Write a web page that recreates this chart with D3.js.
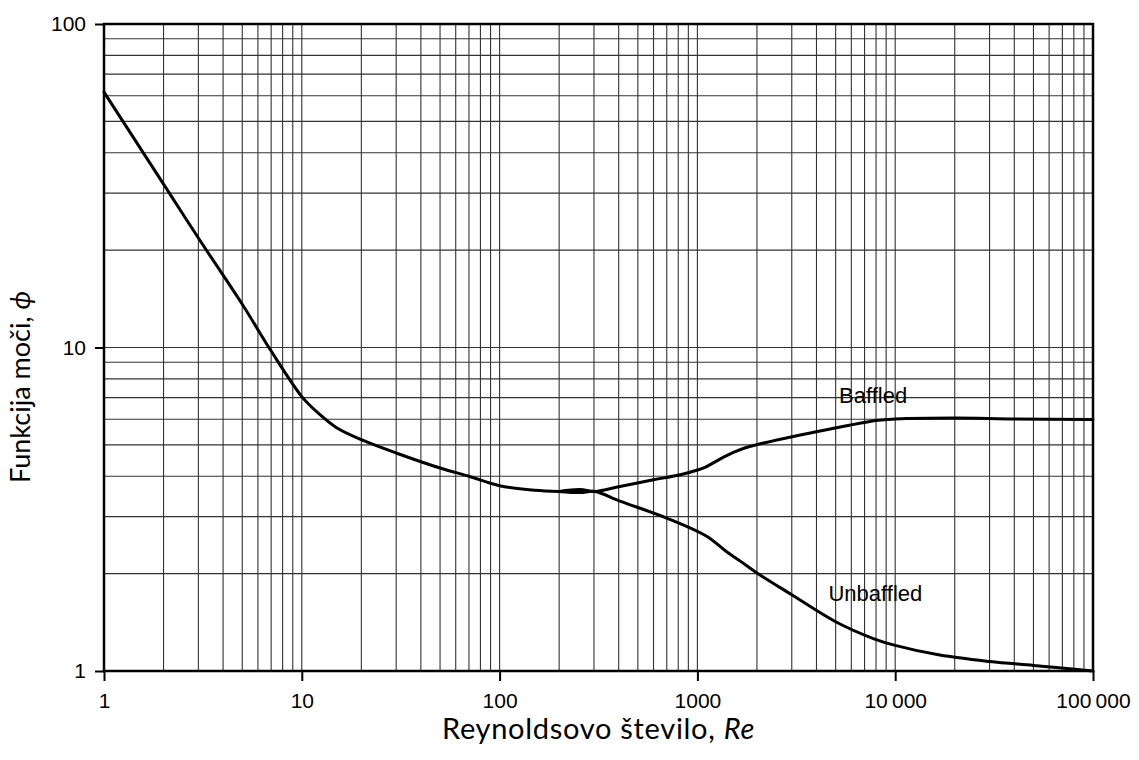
<!DOCTYPE html>
<html>
<head>
<meta charset="utf-8">
<script src="https://cdn.jsdelivr.net/npm/d3@7"></script>
<style>
  body { margin: 0; background: #fff; }
</style>
</head>
<body>
<div id="chart"></div>
<script>
// common part of both curves (laminar + transition)
const reShared  = [1, 2, 3, 5, 7, 10, 12, 15, 20, 30, 50, 70, 100, 150, 200];
const phiShared = [61.6, 32.0, 21.8, 13.6, 9.75, 7.05, 6.3, 5.65, 5.19, 4.72, 4.24, 4.0, 3.74, 3.62, 3.59];

// baffled branch
const reBaffled  = [200, 255, 303, 406, 600, 820, 1000, 1100, 1300, 1520, 1750, 2000, 3050, 4700, 8200, 10000, 20000, 40000, 100000];
const phiBaffled = [3.59, 3.64, 3.59, 3.72, 3.9, 4.04, 4.18, 4.27, 4.52, 4.74, 4.9, 5.01, 5.31, 5.6, 5.96, 6.01, 6.05, 6.01, 5.99];

// unbaffled branch
const reUnbaffled  = [200, 255, 303, 406, 700, 1114, 1400, 1640, 2000, 3000, 5000, 7750, 10000, 16800, 30000, 50000, 100000];
const phiUnbaffled = [3.59, 3.56, 3.59, 3.35, 2.97, 2.61, 2.34, 2.19, 2.01, 1.72, 1.42, 1.26, 1.2, 1.12, 1.07, 1.04, 1.0];

const xTicks = [1, 10, 100, 1000, 10000, 100000];
const xTickLabels = ["1", "10", "100", "1000", "10\u2009000", "100\u2009000"];
const yTicks = [1, 10, 100];
const yTickLabels = ["1", "10", "100"];

const W = 1139, H = 760;
const margin = { top: 24, right: 46, bottom: 89, left: 104 },
    width = W - margin.left - margin.right,
    height = H - margin.top - margin.bottom;

const svg = d3.select("#chart")
    .append("svg")
    .attr("width", W)
    .attr("height", H)
    .append("g")
    .attr("transform", `translate(${margin.left},${margin.top})`);

const x = d3.scaleLog().domain([1, 100000]).range([0, width]);
const y = d3.scaleLog().domain([1, 100]).range([height, 0]);

// grid: every 1..9 inside each decade
const xGrid = [];
for (let d = 1; d < 100000; d *= 10) for (let k = 1; k <= 9; k++) if (d * k > 1) xGrid.push(d * k);
const yGrid = [];
for (let d = 1; d < 100; d *= 10) for (let k = 1; k <= 9; k++) if (d * k > 1) yGrid.push(d * k);

svg.append("g").selectAll("line")
    .data(xGrid)
    .enter().append("line")
    .attr("x1", d => x(d)).attr("x2", d => x(d))
    .attr("y1", 0).attr("y2", height)
    .attr("stroke", "#333")
    .attr("stroke-width", 1.1);

svg.append("g").selectAll("line")
    .data(yGrid)
    .enter().append("line")
    .attr("x1", 0).attr("x2", width)
    .attr("y1", d => y(d)).attr("y2", d => y(d))
    .attr("stroke", "#333")
    .attr("stroke-width", 1.1);

// axes
const xAxis = svg.append("g")
    .attr("transform", `translate(0,${height})`)
    .call(d3.axisBottom(x).tickValues(xTicks).tickSize(10).tickPadding(12)
        .tickFormat((d, i) => xTickLabels[i]));
const yAxis = svg.append("g")
    .call(d3.axisLeft(y).tickValues(yTicks).tickSize(9).tickPadding(9)
        .tickFormat((d, i) => yTickLabels[i]));

[xAxis, yAxis].forEach(a => {
    a.select(".domain").remove();
    a.selectAll(".tick line").attr("stroke", "#000").attr("stroke-width", 2);
    a.selectAll(".tick text")
        .attr("fill", "#000")
        .style("font-family", "'Liberation Sans', Arial, sans-serif")
        .style("font-size", "21px");
});

// frame
svg.append("rect")
    .attr("x", 0).attr("y", 0)
    .attr("width", width).attr("height", height)
    .attr("fill", "none")
    .attr("stroke", "#000")
    .attr("stroke-width", 2.5);

// curves
const line = d3.line()
    .x(d => x(d[0]))
    .y(d => y(d[1]))
    .curve(d3.curveCatmullRom.alpha(0.5));

const curves = [
    d3.zip(reShared, phiShared),
    d3.zip(reBaffled, phiBaffled),
    d3.zip(reUnbaffled, phiUnbaffled)
];

svg.selectAll(".curve")
    .data(curves)
    .enter().append("path")
    .attr("class", "curve")
    .attr("d", line)
    .attr("fill", "none")
    .attr("stroke", "#000")
    .attr("stroke-width", 3)
    .attr("stroke-linejoin", "round")
    .attr("stroke-linecap", "round");

// curve labels
svg.append("text")
    .attr("x", x(5200)).attr("y", y(6.75))
    .style("font-family", "'Liberation Sans', Arial, sans-serif")
    .style("font-size", "22px")
    .text("Baffled");

svg.append("text")
    .attr("x", x(4600)).attr("y", y(1.64))
    .style("font-family", "'Liberation Sans', Arial, sans-serif")
    .style("font-size", "22px")
    .text("Unbaffled");

// axis titles
svg.append("text")
    .attr("x", width / 2)
    .attr("y", height + 68)
    .attr("text-anchor", "middle")
    .style("font-family", "Lato, 'Open Sans', sans-serif")
    .style("font-size", "29px")
    .style("letter-spacing", "0.7px")
    .html("Reynoldsovo število, <tspan font-style='italic'>Re</tspan>");

svg.append("text")
    .attr("transform", `translate(${-74},${363}) rotate(-90)`)
    .attr("text-anchor", "middle")
    .style("font-family", "Lato, 'Open Sans', sans-serif")
    .style("font-size", "27px")
    .html("Funkcija moči, <tspan font-style='italic'>\u03d5</tspan>");
</script>
</body>
</html>
